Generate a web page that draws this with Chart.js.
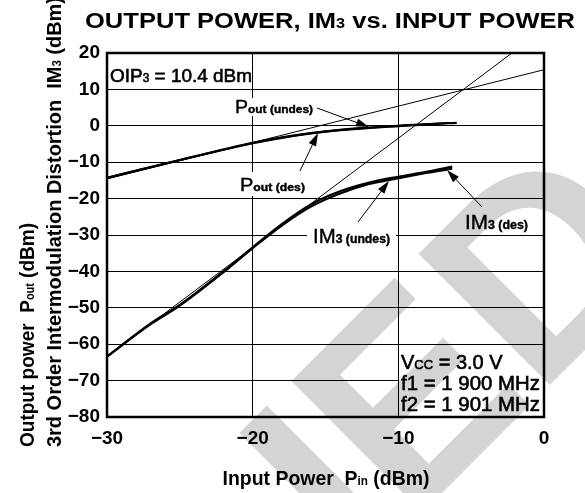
<!DOCTYPE html>
<html>
<head>
<meta charset="utf-8">
<script src="https://cdn.jsdelivr.net/npm/chart.js@4/dist/chart.umd.min.js"></script>
<style>
  html, body { margin: 0; padding: 0; background: #fff; }
  #wrap { width: 585px; height: 493px; position: relative; }
</style>
</head>
<body>
<div id="wrap"><canvas id="imChart" width="585" height="493"></canvas></div>
<script>
// Pout and IM3 vs. input power (two-tone test)
const xTicks = [-30, -20, -10, 0];
const yTicks = [20, 10, 0, -10, -20, -30, -40, -50, -60, -70, -80];

const poutPin = [-30, -25, -20, -18, -16, -14, -12, -10, -8, -6];
const poutDes = [-14.3, -9.4, -4.7, -3.2, -2.0, -1.1, -0.5, 0.0, 0.5, 0.8];
const poutUndes = [-14.3, -9.4, -4.8, -3.3, -2.1, -1.2, -0.6, -0.1, 0.4, 0.9];

const im3Pin = [-30, -27, -25, -22, -20, -18, -16, -14, -12, -10, -8, -6.3];
const im3Des = [-63.4, -54.3, -49.2, -40.0, -33.4, -27.0, -21.6, -18.0, -15.6, -14.0, -12.6, -11.2];
const im3Undes = [-63.4, -54.5, -49.4, -40.2, -33.6, -27.4, -22.2, -18.6, -16.0, -14.4, -12.9, -11.8];

// extrapolated slopes (1:1 and 3:1), crossing at OIP3
const poutFitPin = [-30, 0];
const poutFit = [-14.6, 15.4];
const im3FitPin = [-30, -2.2];
const im3Fit = [-63.4, 20];

const FONT = '"Liberation Sans", Arial, Helvetica, sans-serif';

function pts(xs, ys) {
  return xs.map((x, i) => ({ x: x, y: ys[i] }));
}

function fmt(v) {
  return v < 0 ? '\u2212' + Math.abs(v) : String(v);
}

// text made of runs with different sizes (subscripts)
function runFont(r) {
  return (r.w || 'normal') + ' ' + r.s + 'px ' + FONT;
}
function runsWidth(ctx, runs) {
  let w = 0;
  runs.forEach(r => { ctx.font = runFont(r); w += ctx.measureText(r.t).width; });
  return w;
}
// fit: squeeze/stretch the whole line to this width
// heavy: extra stroke to thicken regular glyphs
function drawRuns(ctx, runs, x, y, align, fit, heavy) {
  let w = runsWidth(ctx, runs);
  let k = fit ? fit / w : 1;
  let tw = w * k;
  let x0 = align === 'center' ? x - tw / 2 : align === 'right' ? x - tw : x;
  ctx.save();
  ctx.translate(x0, y);
  ctx.scale(k, 1);
  ctx.textAlign = 'left';
  ctx.textBaseline = 'alphabetic';
  ctx.fillStyle = '#000';
  ctx.strokeStyle = '#000';
  ctx.lineWidth = heavy || 0;
  let cx = 0;
  runs.forEach(r => {
    ctx.font = runFont(r);
    ctx.fillText(r.t, cx, r.dy || 0);
    if (heavy) ctx.strokeText(r.t, cx, r.dy || 0);
    cx += ctx.measureText(r.t).width;
  });
  ctx.restore();
  return tw;
}

function arrow(ctx, x1, y1, x2, y2) {
  const a = Math.atan2(y2 - y1, x2 - x1);
  const len = 13, half = 4;
  ctx.save();
  ctx.strokeStyle = '#000';
  ctx.fillStyle = '#000';
  ctx.lineWidth = 1;
  ctx.beginPath();
  ctx.moveTo(x1, y1);
  ctx.lineTo(x2 - Math.cos(a) * len * 0.8, y2 - Math.sin(a) * len * 0.8);
  ctx.stroke();
  ctx.beginPath();
  ctx.moveTo(x2, y2);
  ctx.lineTo(x2 - Math.cos(a) * len + Math.sin(a) * half, y2 - Math.sin(a) * len - Math.cos(a) * half);
  ctx.lineTo(x2 - Math.cos(a) * len - Math.sin(a) * half, y2 - Math.sin(a) * len + Math.cos(a) * half);
  ctx.closePath();
  ctx.fill();
  ctx.restore();
}

const frame = {
  id: 'frame',
  beforeDatasetsDraw(chart) {
    const ctx = chart.ctx;
    const xs = chart.scales.x, ys = chart.scales.y;
    ctx.save();
    // white patches breaking the grid under the labels
    ctx.fillStyle = '#fff';
    ctx.fillRect(232, 98, 84, 18);
    ctx.fillRect(237, 172, 72, 24);
    ctx.fillRect(307, 225, 89, 21);
    const cl = xs.getPixelForValue(-10) + 1, cr = xs.getPixelForValue(0) - 1;
    const ct = ys.getPixelForValue(-60) + 1, cb = ys.getPixelForValue(-80) - 1;
    ctx.fillRect(cl, ct, cr - cl, cb - ct);

    // grey "DISCONTINUED" stamp
    ctx.globalCompositeOperation = 'multiply';
    ctx.translate(675, 260);
    ctx.rotate(-Math.PI / 4);
    ctx.font = 'bold 270px ' + FONT;
    ctx.fillStyle = 'rgb(212,212,212)';
    ctx.textAlign = 'right';
    ctx.textBaseline = 'alphabetic';
    ctx.fillText('DISCONTINUED', 0, 0);
    ctx.restore();
  },
  afterDraw(chart) {
    const ctx = chart.ctx;
    const a = chart.chartArea;
    ctx.save();
    ctx.strokeStyle = '#000';
    ctx.lineWidth = 2.5;
    ctx.strokeRect(a.left, a.top, a.right - a.left, a.bottom - a.top);

    // title
    drawRuns(ctx, [
      { t: 'OUTPUT POWER, IM', s: 22, w: 'bold' },
      { t: '3', s: 14, w: 'bold' },
      { t: ' vs. INPUT POWER', s: 22, w: 'bold' }
    ], 330, 28, 'center', 490);

    // axis titles
    drawRuns(ctx, [
      { t: 'Input Power  P', s: 20, w: 'bold' },
      { t: 'in', s: 12, w: 'bold' },
      { t: ' (dBm)', s: 20, w: 'bold' }
    ], 326, 485, 'center', 207);

    ctx.save();
    ctx.translate(34, 447);
    ctx.rotate(-Math.PI / 2);
    drawRuns(ctx, [
      { t: 'Output power  P', s: 21, w: 'bold' },
      { t: 'out', s: 12, w: 'bold' },
      { t: ' (dBm)', s: 21, w: 'bold' }
    ], 0, 0, 'left', 224);
    ctx.restore();
    ctx.save();
    ctx.translate(61, 447);
    ctx.rotate(-Math.PI / 2);
    drawRuns(ctx, [
      { t: '3rd Order Intermodulation Distortion  IM', s: 21, w: 'bold' },
      { t: '3', s: 12, w: 'bold' },
      { t: ' (dBm)', s: 21, w: 'bold' }
    ], 0, 0, 'left', 450);
    ctx.restore();

    // annotations
    drawRuns(ctx, [
      { t: 'OIP', s: 19 },
      { t: '3', s: 12 },
      { t: ' = 10.4 dBm', s: 19 }
    ], 110, 82, 'left', 142, 0.6);

    drawRuns(ctx, [
      { t: 'P', s: 18 },
      { t: 'out (undes)', s: 11, w: 'bold' }
    ], 235, 113, 'left', 78, 0.4);
    arrow(ctx, 317, 108, 369, 127);

    drawRuns(ctx, [
      { t: 'P', s: 18 },
      { t: 'out (des)', s: 11, w: 'bold' }
    ], 240, 191, 'left', 65, 0.4);
    arrow(ctx, 300, 171, 318, 133);

    drawRuns(ctx, [
      { t: 'IM', s: 20 },
      { t: '3 (undes)', s: 12, w: 'bold' }
    ], 313, 243, 'left', 77, 0.4);
    arrow(ctx, 358, 222, 389, 181);

    drawRuns(ctx, [
      { t: 'IM', s: 20 },
      { t: '3 (des)', s: 12, w: 'bold' }
    ], 465, 229, 'left', 63, 0.4);
    arrow(ctx, 482, 207, 447, 170);

    // test conditions
    drawRuns(ctx, [
      { t: 'V', s: 20 },
      { t: 'CC', s: 13 },
      { t: ' = 3.0 V', s: 20 }
    ], 401, 369, 'left', 0, 0.6);
    drawRuns(ctx, [{ t: 'f1 = 1 900 MHz', s: 20 }], 401, 390, 'left', 139, 0.6);
    drawRuns(ctx, [{ t: 'f2 = 1 901 MHz', s: 20 }], 401, 411, 'left', 139, 0.6);
    ctx.restore();
  }
};

function thick(data) {
  return { data: data, borderColor: '#000', borderWidth: 2.2, pointRadius: 0, cubicInterpolationMode: 'monotone', fill: false };
}
function thin(data) {
  return { data: data, borderColor: '#000', borderWidth: 1, pointRadius: 0, tension: 0, fill: false };
}

const chart = new Chart(document.getElementById('imChart'), {
  type: 'line',
  data: {
    datasets: [
      Object.assign(thick(pts(poutPin, poutDes)), { label: 'Pout (des)' }),
      Object.assign(thick(pts(poutPin, poutUndes)), { label: 'Pout (undes)' }),
      Object.assign(thick(pts(im3Pin, im3Des)), { label: 'IM3 (des)' }),
      Object.assign(thick(pts(im3Pin, im3Undes)), { label: 'IM3 (undes)' }),
      Object.assign(thin(pts(poutFitPin, poutFit)), { label: 'Pout slope' }),
      Object.assign(thin(pts(im3FitPin, im3Fit)), { label: 'IM3 slope' })
    ]
  },
  options: {
    responsive: false,
    animation: false,
    layout: { padding: { top: 53, right: 41, left: 0, bottom: 0 } },
    plugins: { legend: { display: false }, tooltip: { enabled: false }, title: { display: false } },
    scales: {
      x: {
        type: 'linear', min: -30, max: 0,
        afterBuildTicks: s => { s.ticks = xTicks.map(v => ({ value: v })); },
        afterFit: s => { s.height = 76; },
        grid: { color: '#000', lineWidth: 1, drawTicks: false },
        border: { display: false },
        ticks: { callback: fmt, color: '#000', padding: 10, autoSkip: false, maxRotation: 0,
                 font: { family: FONT, size: 19, weight: 'bold' } }
      },
      y: {
        type: 'linear', min: -80, max: 20,
        afterBuildTicks: s => { s.ticks = yTicks.map(v => ({ value: v })); },
        afterFit: s => { s.width = 107; },
        grid: { color: '#000', lineWidth: 1, drawTicks: false },
        border: { display: false },
        ticks: { callback: fmt, color: '#000', padding: 7, autoSkip: false,
                 font: { family: FONT, size: 19, weight: 'bold' } }
      }
    }
  },
  plugins: [frame]
});
</script>
</body>
</html>
